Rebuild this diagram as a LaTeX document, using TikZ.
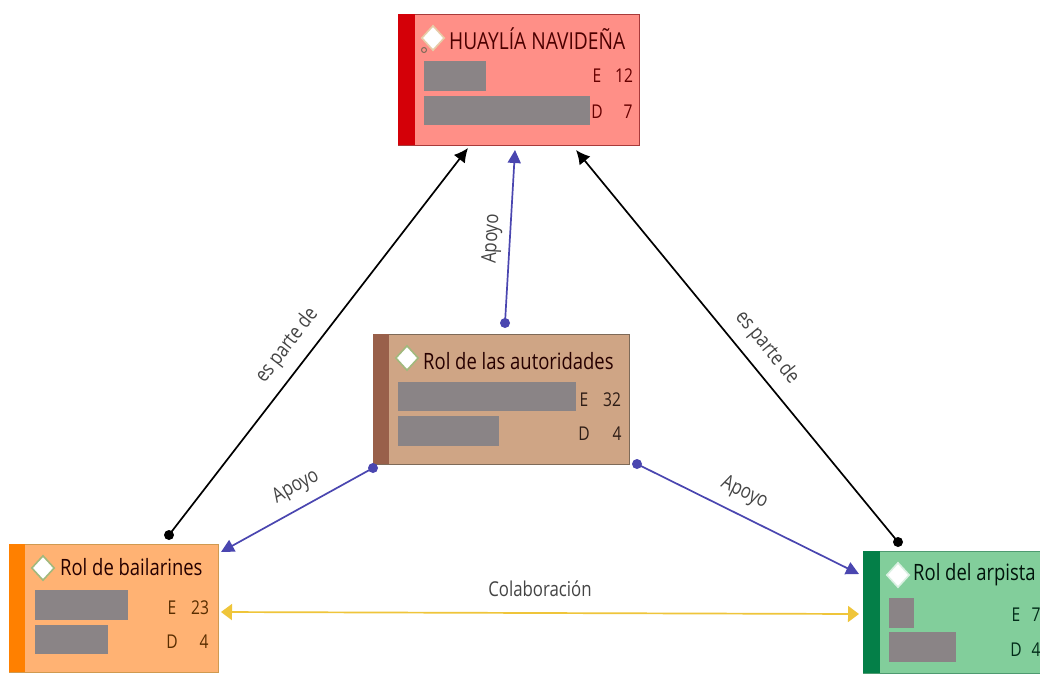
\documentclass[tikz,border=0pt]{standalone}
\usepackage{fontspec}
\setmainfont[FakeStretch=0.82]{Open Sans}
\usetikzlibrary{shapes.geometric,arrows.meta}
\definecolor{redF}{HTML}{FF8F87}\definecolor{redS}{HTML}{D40008}\definecolor{redB}{HTML}{A83A3A}
\definecolor{brnF}{HTML}{CFA585}\definecolor{brnS}{HTML}{99604A}\definecolor{brnB}{HTML}{7E6A58}
\definecolor{orgF}{HTML}{FFB273}\definecolor{orgS}{HTML}{FF8000}\definecolor{orgB}{HTML}{D09A50}
\definecolor{grnF}{HTML}{82CE9B}\definecolor{grnS}{HTML}{047F48}\definecolor{grnB}{HTML}{4E9A70}
\definecolor{barG}{HTML}{8A8486}\definecolor{blueL}{HTML}{4A46B0}\definecolor{yelL}{HTML}{EFC53A}
\definecolor{lblG}{HTML}{444444}
\tikzset{
  x=1pt,y=-1pt,
  card/.style={rectangle,draw=#1,line width=1pt,inner sep=0pt,anchor=north west},
  bar/.style={rectangle,fill=barG,inner sep=0pt,anchor=north west},
  gem/.style={diamond,fill=white,draw=#1,line width=1.6pt,inner sep=0pt,minimum width=23pt,minimum height=25pt},
  title/.style={font=\fontsize{22.5}{24}\selectfont,text=#1,inner sep=0pt,anchor=west},
  stat/.style={font=\fontsize{19}{20}\selectfont,text=#1,inner sep=0pt},
  lbl/.style={font=\fontsize{20.5}{22}\selectfont,text=lblG,inner sep=0pt},
  dotb/.style={circle,fill=black,inner sep=0pt,minimum size=10pt},
  dotp/.style={circle,fill=blueL,inner sep=0pt,minimum size=10pt},
  blk/.style={draw=black,line width=1.7pt,-{Latex[length=14pt,width=14pt]}},
  blu/.style={draw=blueL,line width=1.7pt,-{Triangle[length=13pt,width=13pt]}},
  yel/.style={draw=yelL,line width=1.7pt,{Triangle[length=11pt,width=16pt]}-{Triangle[length=11pt,width=16pt]}},
}
\begin{document}
\begin{tikzpicture}
\useasboundingbox (0,0) rectangle (1040,673);
\fill[white] (0,0) rectangle (1040,673);
% top card
\node[card=redB,fill=redF,minimum width=241pt,minimum height=131pt] (top) at (398,14) {};
\node[rectangle,fill=redS,inner sep=0pt,anchor=north west,minimum width=17pt,minimum height=131pt] (topS) at (398,14) {};
\node[gem=orgB!50!white] (topG) at (433,38) {};
\node[circle,draw=brnB,line width=1pt,inner sep=0pt,minimum size=5pt] (topC) at (424,50) {};
\node[title=black!70!red,font=\fontsize{23.4}{25}\selectfont] (topT) at (449,39) {HUAYLÍA NAVIDEÑA};
\node[bar,minimum width=62pt,minimum height=30pt] (topB1) at (424,61) {};
\node[bar,minimum width=166pt,minimum height=29pt] (topB2) at (424,96) {};
\node[stat=black!60!red] (topE) at (597,76) {E};
\node[stat=black!60!red] (topEn) at (624,76) {12};
\node[stat=black!60!red] (topD) at (597,112) {D};
\node[stat=black!60!red] (topDn) at (628,112) {7};
% centre card
\node[card=brnB,fill=brnF,minimum width=256pt,minimum height=130pt] (cen) at (373,334) {};
\node[rectangle,fill=brnS,inner sep=0pt,anchor=north west,minimum width=16pt,minimum height=130pt] (cenS) at (373,334) {};
\node[gem=grnF!60!orgB] (cenG) at (407,358) {};
\node[title=black!85!red] (cenT) at (423,361) {Rol de las autoridades};
\node[bar,minimum width=178pt,minimum height=29pt] (cenB1) at (398,382) {};
\node[bar,minimum width=101pt,minimum height=30pt] (cenB2) at (398,416) {};
\node[stat=black!70!brnS] (cenE) at (584,400) {E};
\node[stat=black!70!brnS] (cenEn) at (612,400) {32};
\node[stat=black!70!brnS] (cenD) at (584,434) {D};
\node[stat=black!70!brnS] (cenDn) at (617,434) {4};
% left card
\node[card=orgB,fill=orgF,minimum width=209pt,minimum height=128pt] (lef) at (9,544) {};
\node[rectangle,fill=orgS,inner sep=0pt,anchor=north west,minimum width=16pt,minimum height=128pt] (lefS) at (9,544) {};
\node[gem=grnF!60!orgB] (lefG) at (43,568) {};
\node[title=black!85!red] (lefT) at (60,567) {Rol de bailarines};
\node[bar,minimum width=93pt,minimum height=30pt] (lefB1) at (35,590) {};
\node[bar,minimum width=73pt,minimum height=29pt] (lefB2) at (35,625) {};
\node[stat=black!65!orgS] (lefE) at (172,608) {E};
\node[stat=black!65!orgS] (lefEn) at (200,608) {23};
\node[stat=black!65!orgS] (lefD) at (172,642) {D};
\node[stat=black!65!orgS] (lefDn) at (204,642) {4};
% right card
\node[card=grnB,fill=grnF,minimum width=177pt,minimum height=122pt] (rig) at (863,551) {};
\node[rectangle,fill=grnS,inner sep=0pt,anchor=north west,minimum width=17pt,minimum height=122pt] (rigS) at (863,551) {};
\node[gem=grnF!30!white] (rigG) at (898,575) {};
\node[title=black!85!grnS] (rigT) at (913,575) {Rol del arpista};
\node[bar,minimum width=25pt,minimum height=30pt] (rigB1) at (889,598) {};
\node[bar,minimum width=67pt,minimum height=30pt] (rigB2) at (889,632) {};
\node[stat=black!65!grnS] (rigE) at (1016,615) {E};
\node[stat=black!65!grnS] (rigEn) at (1036,615) {7};
\node[stat=black!65!grnS] (rigD) at (1016,650) {D};
\node[stat=black!65!grnS] (rigDn) at (1036,650) {4};
% connector ends
\node[dotb] (d1) at (169,535) {};
\node[dotb] (d2) at (898,542) {};
\node[dotp] (d3) at (505,323) {};
\node[dotp] (d4) at (373,468) {};
\node[dotp] (d5) at (637,464) {};
\coordinate (a1) at (468,148);
\coordinate (a2) at (576,150);
\coordinate (a3) at (515,150);
\coordinate (a4) at (221,552);
\coordinate (a5) at (859,574);
\coordinate (y1) at (221,612);
\coordinate (y2) at (859,614);
% connectors
\draw[blk] (d1.center) -- node[lbl,sloped,above=11pt,pos=.454] {es parte de} (a1);
\draw[blk] (d2.center) -- node[lbl,sloped,above=11pt,pos=.46] {es parte de} (a2);
\draw[blu] (d3.center) -- node[lbl,sloped,above=7pt,pos=.48] {Apoyo} (a3);
\draw[blu] (d4.center) -- node[lbl,sloped,above=10pt,pos=.44] {Apoyo} (a4);
\draw[blu] (d5.center) -- node[lbl,sloped,above=11pt,pos=.44] {Apoyo} (a5);
\draw[yel] (y1) -- node[lbl,above=15pt,pos=.5] {Colaboración} (y2);
\end{tikzpicture}
\end{document}
